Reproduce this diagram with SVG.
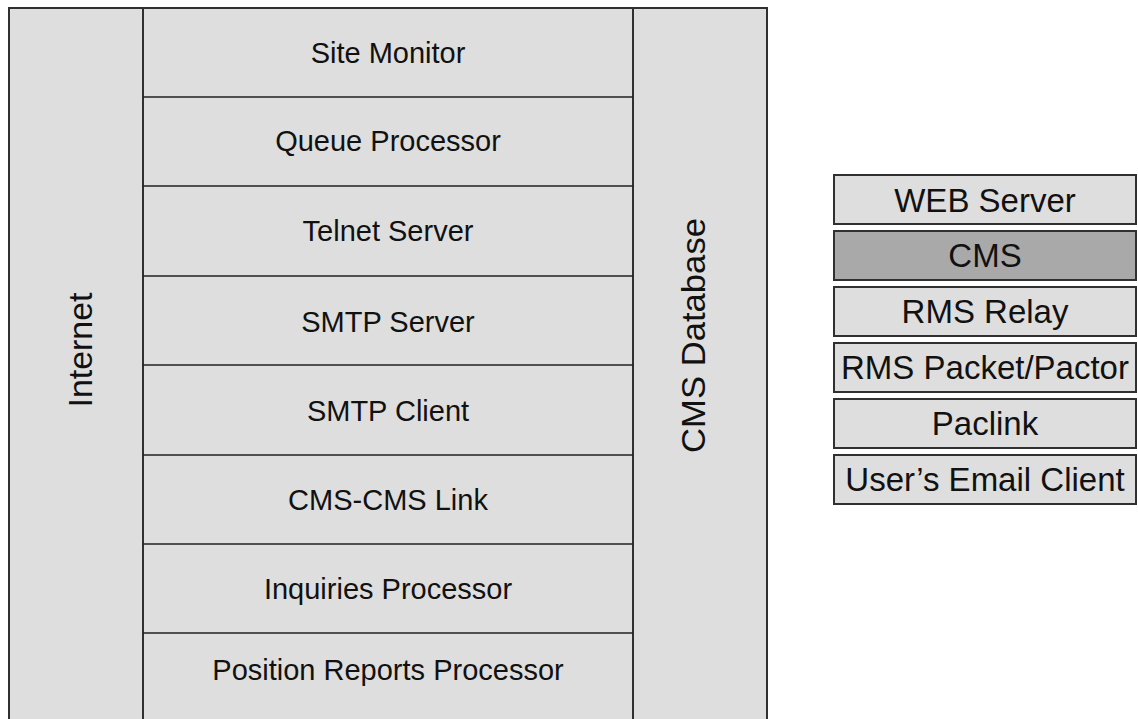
<svg xmlns="http://www.w3.org/2000/svg" width="1138" height="719" viewBox="0 0 1138 719">
<style>
.bg{fill:#ffffff}
.box{fill:#dedede;stroke:#303030;stroke-width:2}
.dark{fill:#a9a9a9;stroke:#303030;stroke-width:2}
.sep{stroke:#202020;stroke-width:1.6;fill:none}
.t{font-family:"Liberation Sans",Arial,sans-serif;fill:#111;text-anchor:middle}
.l{font-size:29px}
.r{font-size:33px}
.v{font-size:34px}
</style>
<rect class="bg" x="0" y="0" width="1138" height="719"/>
<g id="internet">
<rect class="box" x="9" y="8" width="134" height="730"/>
<text class="t v" transform="translate(92,350) rotate(-90)" textLength="115" lengthAdjust="spacingAndGlyphs">Internet</text>
</g>
<g id="cms-database">
<rect class="box" x="633" y="8" width="134" height="730"/>
<text class="t v" transform="translate(705,335.5) rotate(-90)" textLength="235" lengthAdjust="spacingAndGlyphs">CMS Database</text>
</g>
<g id="services">
<rect class="box" x="143" y="8" width="490" height="730"/>
</g>
<g id="connectors">
<line class="sep" x1="143" y1="97" x2="633" y2="97"/>
<line class="sep" x1="143" y1="186" x2="633" y2="186"/>
<line class="sep" x1="143" y1="276" x2="633" y2="276"/>
<line class="sep" x1="143" y1="365" x2="633" y2="365"/>
<line class="sep" x1="143" y1="455" x2="633" y2="455"/>
<line class="sep" x1="143" y1="544" x2="633" y2="544"/>
<line class="sep" x1="143" y1="633" x2="633" y2="633"/>
</g>
<g id="site-monitor"><text class="t l" x="388" y="63">Site Monitor</text></g>
<g id="queue-processor"><text class="t l" x="388" y="151">Queue Processor</text></g>
<g id="telnet-server"><text class="t l" x="388" y="241">Telnet Server</text></g>
<g id="smtp-server"><text class="t l" x="388" y="332">SMTP Server</text></g>
<g id="smtp-client"><text class="t l" x="388" y="421">SMTP Client</text></g>
<g id="cms-cms-link"><text class="t l" x="388" y="510">CMS-CMS Link</text></g>
<g id="inquiries-processor"><text class="t l" x="388" y="599">Inquiries Processor</text></g>
<g id="position-reports-processor"><text class="t l" x="388" y="680">Position Reports Processor</text></g>
<g id="web-server">
<rect class="box" x="834" y="175" width="302" height="49"/>
<text class="t r" x="985" y="212">WEB Server</text>
</g>
<g id="cms">
<rect class="dark" x="834" y="231" width="302" height="49"/>
<text class="t r" x="985" y="267">CMS</text>
</g>
<g id="rms-relay">
<rect class="box" x="834" y="287" width="302" height="49"/>
<text class="t r" x="985" y="323">RMS Relay</text>
</g>
<g id="rms-packet-pactor">
<rect class="box" x="834" y="343" width="302" height="49"/>
<text class="t r" x="985" y="379">RMS Packet/Pactor</text>
</g>
<g id="paclink">
<rect class="box" x="834" y="399" width="302" height="49"/>
<text class="t r" x="985" y="435">Paclink</text>
</g>
<g id="users-email-client">
<rect class="box" x="834" y="455" width="302" height="49"/>
<text class="t r" x="985" y="491">User’s Email Client</text>
</g>
</svg>
